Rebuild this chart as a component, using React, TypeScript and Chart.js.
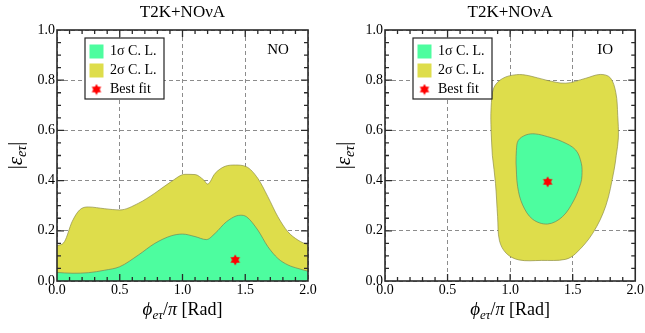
import React, { useEffect, useRef } from 'react';
import { Chart, registerables } from 'chart.js';

Chart.register(...registerables);

const FONT = "'Liberation Serif', 'Times New Roman', serif";

// ---- text ----
const TITLE = 'T2K+NOνA';
const PANEL_LABELS = ['NO', 'IO'];
const LEGEND_LABELS = ['1σ C. L.', '2σ C. L.', 'Best fit'];

// ---- ticks ----
const X_TICK_VALUES = [0, 0.5, 1.0, 1.5, 2.0];
const X_TICK_LABELS = ['0.0', '0.5', '1.0', '1.5', '2.0'];
const Y_TICK_VALUES = [0, 0.2, 0.4, 0.6, 0.8, 1.0];
const Y_TICK_LABELS = ['0.0', '0.2', '0.4', '0.6', '0.8', '1.0'];

// ---- NO panel ----
const NO_2S_X = [0, 0.06, 0.12, 0.18, 0.25, 0.38, 0.5, 0.65, 0.78, 0.91, 1.02, 1.1, 1.17, 1.2, 1.26, 1.34, 1.42, 1.51, 1.6, 1.68, 1.76, 1.84, 1.92, 2.0];
const NO_2S_Y = [0.14, 0.157, 0.236, 0.283, 0.295, 0.288, 0.283, 0.31, 0.35, 0.396, 0.425, 0.424, 0.402, 0.386, 0.429, 0.457, 0.462, 0.455, 0.409, 0.336, 0.256, 0.196, 0.163, 0.143];
const NO_1S_X = [0, 0.12, 0.25, 0.38, 0.5, 0.65, 0.78, 0.91, 1.0, 1.1, 1.19, 1.26, 1.35, 1.46, 1.51, 1.6, 1.68, 1.76, 1.84, 1.92, 2.0];
const NO_1S_Y = [0.034, 0.031, 0.033, 0.043, 0.057, 0.104, 0.15, 0.18, 0.187, 0.177, 0.165, 0.19, 0.236, 0.262, 0.256, 0.203, 0.137, 0.09, 0.064, 0.05, 0.039];
const NO_BEST_X = [1.42];
const NO_BEST_Y = [0.084];

// ---- IO panel (closed contours) ----
const IO_2S_X = [0.858, 0.848, 0.848, 0.87, 0.94, 1.05, 1.15, 1.29, 1.445, 1.6, 1.72, 1.8, 1.845, 1.86, 1.865, 1.848, 1.83, 1.765, 1.66, 1.525, 1.44, 1.25, 1.07, 0.97, 0.915, 0.9, 0.883, 0.858];
const IO_2S_Y = [0.5, 0.6, 0.69, 0.77, 0.807, 0.822, 0.818, 0.8, 0.788, 0.807, 0.823, 0.81, 0.75, 0.66, 0.57, 0.5, 0.44, 0.3, 0.19, 0.11, 0.086, 0.082, 0.084, 0.11, 0.16, 0.256, 0.389, 0.5];
const IO_1S_X = [1.047, 1.05, 1.065, 1.127, 1.2, 1.3, 1.418, 1.524, 1.569, 1.574, 1.564, 1.511, 1.418, 1.3, 1.18, 1.1, 1.06, 1.047];
const IO_1S_Y = [0.47, 0.52, 0.56, 0.582, 0.586, 0.575, 0.555, 0.522, 0.469, 0.42, 0.389, 0.323, 0.256, 0.227, 0.246, 0.303, 0.376, 0.47];
const IO_BEST_X = [1.3];
const IO_BEST_Y = [0.395];

const GREEN = '#4dfd9f';
const YELLOW = '#dedd4b';

const pts = (xs: number[], ys: number[]) => xs.map((x, i) => ({ x, y: ys[i] }));

function makeStar(size: number) {
  const c = document.createElement('canvas');
  c.width = size;
  c.height = size;
  const ctx = c.getContext('2d')!;
  const r = size / 2 - 0.5;
  const cx = size / 2, cy = size / 2;
  ctx.fillStyle = '#ff0000';
  for (const rot of [-Math.PI / 2, Math.PI / 2]) {
    ctx.beginPath();
    for (let k = 0; k < 3; k++) {
      const a = rot + (k * 2 * Math.PI) / 3;
      const px = cx + r * Math.cos(a), py = cy + r * Math.sin(a);
      if (k === 0) ctx.moveTo(px, py); else ctx.lineTo(px, py);
    }
    ctx.closePath();
    ctx.fill();
  }
  return c;
}

type Run = { t: string; it?: boolean; s: number; dy?: number };

function drawRuns(ctx: CanvasRenderingContext2D, runs: Run[], cx: number, baseY: number) {
  const font = (r: Run) => `${r.it ? 'italic ' : ''}${r.s}px ${FONT}`;
  let total = 0;
  const widths = runs.map((r) => {
    ctx.font = font(r);
    const w = ctx.measureText(r.t).width;
    total += w;
    return w;
  });
  let x = cx - total / 2;
  ctx.textAlign = 'left';
  ctx.textBaseline = 'alphabetic';
  runs.forEach((r, i) => {
    ctx.font = font(r);
    ctx.fillText(r.t, x, baseY + (r.dy || 0));
    x += widths[i];
  });
}

const X_TITLE: Run[] = [
  { t: 'ϕ', it: true, s: 19 },
  { t: 'eτ', it: true, s: 13, dy: 4 },
  { t: '/', s: 18 },
  { t: 'π', it: true, s: 18 },
  { t: ' [Rad]', s: 18 },
];
const Y_TITLE: Run[] = [
  { t: '|', s: 20 },
  { t: 'ε', it: true, s: 21 },
  { t: 'eτ', it: true, s: 14, dy: 4 },
  { t: '|', s: 20 },
];

function overlayPlugin(panelLabel: string) {
  return {
    id: 'overlay',
    beforeDraw(chart: any) {
      const ca = chart.chartArea;
      const lg = chart.legend;
      if (lg) {
        lg.left = ca.left + 28;
        lg.top = ca.top + 9.5;
        lg.right = ca.right;
        lg.bottom = ca.bottom;
        lg.width = lg.right - lg.left;
        lg.height = lg.bottom - lg.top;
      }
    },
    afterDraw(chart: any) {
      const ctx: CanvasRenderingContext2D = chart.ctx;
      const ca = chart.chartArea;
      const xs = chart.scales.x, ys = chart.scales.y;
      // legend frame
      ctx.save();
      const bx = ca.left + 28, by = ca.top + 8, bw = 79, bh = 61;
      ctx.fillStyle = '#ffffff';
      ctx.fillRect(bx, by, bw, bh);
      ctx.strokeStyle = '#222';
      ctx.lineWidth = 1.2;
      ctx.strokeRect(bx, by, bw, bh);
      ctx.restore();
      if (chart.legend) chart.legend.draw();

      // frame + inward ticks
      ctx.save();
      ctx.strokeStyle = '#2a2a2a';
      ctx.lineWidth = 1.3;
      ctx.beginPath();
      for (let i = 1; i < 20; i++) {
        const px = xs.getPixelForValue(i * 0.1);
        const L = i % 5 === 0 ? 7 : 4;
        ctx.moveTo(px, ca.bottom); ctx.lineTo(px, ca.bottom - L);
        ctx.moveTo(px, ca.top); ctx.lineTo(px, ca.top + L);
      }
      for (let i = 1; i < 20; i++) {
        const py = ys.getPixelForValue(i * 0.05);
        const L = i % 4 === 0 ? 7 : 4;
        ctx.moveTo(ca.left, py); ctx.lineTo(ca.left + L, py);
        ctx.moveTo(ca.right, py); ctx.lineTo(ca.right - L, py);
      }
      ctx.stroke();
      ctx.lineWidth = 1.6;
      ctx.strokeRect(ca.left, ca.top, ca.right - ca.left, ca.bottom - ca.top);
      ctx.restore();

      // panel label
      ctx.save();
      ctx.fillStyle = '#000';
      ctx.font = `15px ${FONT}`;
      ctx.textAlign = 'center';
      ctx.textBaseline = 'middle';
      ctx.fillText(panelLabel, ca.right - 30, ca.top + 20.5);
      ctx.restore();

      // axis titles
      ctx.save();
      ctx.fillStyle = '#000';
      drawRuns(ctx, X_TITLE, (ca.left + ca.right) / 2, 315);
      ctx.restore();
      ctx.save();
      ctx.fillStyle = '#000';
      ctx.translate(ca.left - 35, (ca.top + ca.bottom) / 2);
      ctx.rotate(-Math.PI / 2);
      drawRuns(ctx, Y_TITLE, 0, 0);
      ctx.restore();
    },
  };
}

type PanelProps = {
  label: string;
  s1x: number[]; s1y: number[];
  s2x: number[]; s2y: number[];
  bx: number[]; by: number[];
  closed: boolean;
  width: number;
  yAxisWidth: number;
  padRight: number;
};

function Panel(p: PanelProps) {
  const ref = useRef<HTMLCanvasElement | null>(null);
  useEffect(() => {
    if (!ref.current) return;
    const star = makeStar(12);
    const curve = p.closed
      ? { tension: 0.35 }
      : { cubicInterpolationMode: 'monotone' as const };
    const tickFont = { family: FONT, size: 14 };
    const chart = new Chart(ref.current, {
      type: 'scatter',
      data: {
        datasets: [
          {
            label: LEGEND_LABELS[0],
            data: pts(p.s1x, p.s1y),
            showLine: true,
            fill: p.closed ? 'shape' : 'origin',
            backgroundColor: GREEN,
            borderColor: 'rgba(110,130,90,0.85)',
            borderWidth: 0.8,
            pointRadius: 0,
            pointStyle: 'rect',
            pointBorderWidth: 0,
            order: 1,
            ...curve,
          } as any,
          {
            label: LEGEND_LABELS[1],
            data: pts(p.s2x, p.s2y),
            showLine: true,
            fill: p.closed ? 'shape' : 'origin',
            backgroundColor: YELLOW,
            borderColor: 'rgba(140,140,70,0.85)',
            borderWidth: 0.8,
            pointRadius: 0,
            pointStyle: 'rect',
            pointBorderWidth: 0,
            order: 2,
            ...curve,
          } as any,
          {
            label: LEGEND_LABELS[2],
            data: pts(p.bx, p.by),
            showLine: false,
            backgroundColor: '#ff0000',
            borderColor: '#ff0000',
            pointStyle: star,
            pointRadius: 6,
            pointBorderWidth: 0,
            order: 0,
          } as any,
        ],
      },
      options: {
        responsive: false,
        animation: false,
        events: [],
        layout: { padding: { left: 0, right: p.padRight, top: 0, bottom: 0 } },
        plugins: {
          title: {
            display: true,
            text: TITLE,
            fullSize: false,
            color: '#000',
            font: { family: FONT, size: 17, weight: 'normal' as any, lineHeight: 1.2 },
            padding: { top: 2, bottom: 7.6 },
          },
          legend: {
            display: true,
            position: 'chartArea' as any,
            align: 'start',
            labels: {
              usePointStyle: true,
              boxWidth: 13,
              boxHeight: 14,
              padding: 5,
              color: '#000',
              font: { family: FONT, size: 14 },
              sort: (a: any, b: any) => a.datasetIndex - b.datasetIndex,
            },
          },
          tooltip: { enabled: false },
        },
        scales: {
          x: {
            type: 'linear',
            min: 0,
            max: 2,
            z: 1,
            afterFit: (s: any) => { s.height = 52; },
            afterBuildTicks: (s: any) => { s.ticks = X_TICK_VALUES.map((v) => ({ value: v })); },
            ticks: {
              callback: (_v: any, i: number) => X_TICK_LABELS[i],
              font: tickFont,
              color: '#000',
              padding: 1,
              maxRotation: 0,
              autoSkip: false,
            },
            grid: { color: '#8c8c8c', lineWidth: 1, drawTicks: false },
            border: { display: false, dash: [4, 3] },
          },
          y: {
            type: 'linear',
            min: 0,
            max: 1,
            z: 1,
            afterFit: (s: any) => { s.width = p.yAxisWidth; },
            afterBuildTicks: (s: any) => { s.ticks = Y_TICK_VALUES.map((v) => ({ value: v })); },
            ticks: {
              callback: (_v: any, i: number) => Y_TICK_LABELS[i],
              font: tickFont,
              color: '#000',
              padding: 2,
              autoSkip: false,
            },
            grid: { color: '#8c8c8c', lineWidth: 1, drawTicks: false },
            border: { display: false, dash: [4, 3] },
          },
        },
      } as any,
      plugins: [overlayPlugin(p.label)],
    });
    return () => chart.destroy();
  }, []);
  return <canvas ref={ref} width={p.width} height={333} style={{ display: 'block', width: p.width, height: 333 }} />;
}

export default function App() {
  return (
    <div style={{ position: 'absolute', left: 0, top: 0, width: 645, height: 333, background: '#fff', display: 'flex' }}>
      <Panel label={PANEL_LABELS[0]} s1x={NO_1S_X} s1y={NO_1S_Y} s2x={NO_2S_X} s2y={NO_2S_Y} bx={NO_BEST_X} by={NO_BEST_Y} closed={false} width={322} yAxisWidth={57} padRight={14} />
      <Panel label={PANEL_LABELS[1]} s1x={IO_1S_X} s1y={IO_1S_Y} s2x={IO_2S_X} s2y={IO_2S_Y} bx={IO_BEST_X} by={IO_BEST_Y} closed={true} width={323} yAxisWidth={63} padRight={8} />
    </div>
  );
}
